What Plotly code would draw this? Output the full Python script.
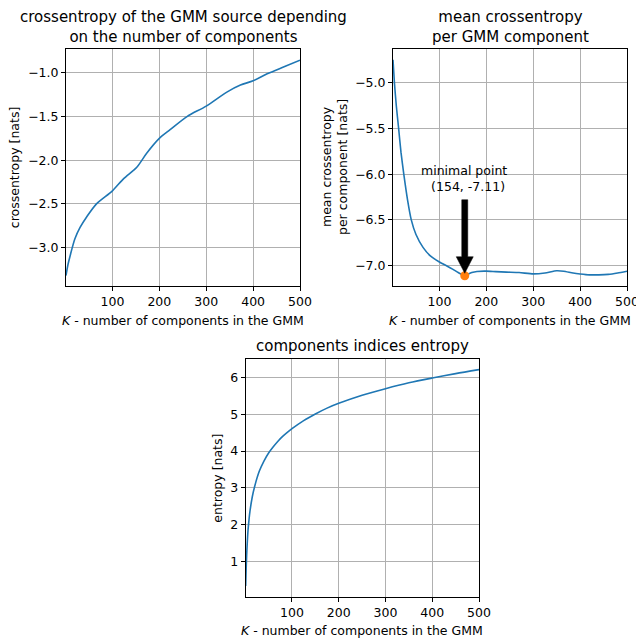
import plotly.graph_objects as go

# ---------------- data ----------------
k_ce = [1, 5, 10, 20, 31, 45, 66, 100, 124, 152, 173, 200, 223, 259, 300, 344, 373, 400, 430, 466, 500]
ce = [-3.32, -3.20, -3.09, -2.90, -2.77, -2.65, -2.50, -2.35, -2.21, -2.08, -1.92, -1.75, -1.65,
      -1.50, -1.38, -1.22, -1.14, -1.09, -1.01, -0.93, -0.855]

k_mce = [1, 4, 8, 13, 18, 24, 32, 40, 50, 65, 80, 100, 115, 129, 140, 154, 162, 169, 180, 200,
         220, 243, 270, 300, 325, 350, 365, 385, 400, 420, 440, 460, 480, 500]
mce = [-4.75, -5.0, -5.25, -5.5, -5.76, -6.0, -6.28, -6.5, -6.66, -6.80, -6.89, -6.96, -7.0, -7.04,
       -7.075, -7.11, -7.09, -7.075, -7.063, -7.06, -7.065, -7.07, -7.075, -7.09, -7.08, -7.055,
       -7.06, -7.08, -7.09, -7.10, -7.10, -7.095, -7.08, -7.06]
min_k = 154
min_val = -7.11

k_ent = [1, 2, 3, 4, 6, 8, 10, 15, 20, 30, 40, 50, 60, 70, 80, 90, 100, 125, 150, 175, 200,
         250, 300, 350, 400, 450, 500]
ent = [0.33, 0.80, 1.15, 1.42, 1.85, 2.12, 2.35, 2.75, 3.03, 3.45, 3.73, 3.95, 4.12, 4.27, 4.40,
       4.51, 4.61, 4.83, 5.01, 5.17, 5.30, 5.52, 5.70, 5.86, 5.99, 6.11, 6.22]

x_ticks = [100, 200, 300, 400, 500]
y1_ticks = [-1.0, -1.5, -2.0, -2.5, -3.0]
y2_ticks = [-5.0, -5.5, -6.0, -6.5, -7.0]
y3_ticks = [1, 2, 3, 4, 5, 6]

titles = ["crossentropy of the GMM source depending<br>on the number of components",
          "mean crossentropy<br>per GMM component",
          "components indices entropy"]
ylabels = ["crossentropy [nats]", "mean crossentropy<br>per component [nats]", "entropy [nats]"]
xlabel = "<i>K</i> - number of components in the GMM"
annot_text = "minimal point<br>\u00a0\u00a0(154, -7.11)"

# ---------------- layout helpers ----------------
W, H = 636, 640
FONT = "DejaVu Sans"
BLUE = "#1f77b4"
ORANGE = "#ff7f0e"


def fx(px):
    return px / W


def fy(py):
    return 1 - py / H


def fmt(v):
    s = f"{v:.1f}"
    return s.replace("-", "\u2212")


fig = go.Figure()

fig.add_trace(go.Scatter(x=k_ce, y=ce, mode="lines", line=dict(color=BLUE, width=1.6, shape="spline", smoothing=0.8),
                         xaxis="x", yaxis="y", showlegend=False))
fig.add_trace(go.Scatter(x=k_mce, y=mce, mode="lines", line=dict(color=BLUE, width=1.6, shape="spline", smoothing=0.6),
                         xaxis="x2", yaxis="y2", showlegend=False))
fig.add_trace(go.Scatter(x=[min_k], y=[min_val], mode="markers", marker=dict(color=ORANGE, size=9),
                         xaxis="x2", yaxis="y2", showlegend=False))
fig.add_trace(go.Scatter(x=k_ent, y=ent, mode="lines", line=dict(color=BLUE, width=1.6, shape="spline", smoothing=0.8),
                         xaxis="x3", yaxis="y3", showlegend=False))

axcommon = dict(showline=True, mirror=True, linecolor="black", linewidth=1,
                ticks="outside", ticklen=4, tickwidth=1, tickcolor="black",
                showgrid=True, gridcolor="#b0b0b0", gridwidth=1, zeroline=False, automargin=False,
                ticklabeloverflow="allow",
                tickfont=dict(family=FONT, size=12.5, color="black"))

fig.update_layout(
    width=W, height=H,
    margin=dict(l=0, r=0, t=0, b=0, pad=0, autoexpand=False),
    paper_bgcolor="white", plot_bgcolor="white",
    font=dict(family=FONT, color="black"),
    xaxis=dict(domain=[fx(66), fx(300)], range=[1, 500], tickvals=x_ticks, anchor="y", **axcommon),
    yaxis=dict(domain=[fy(286), fy(49.3)], range=[-3.44, -0.73], tickvals=y1_ticks,
               ticktext=[fmt(v) for v in y1_ticks], anchor="x", **axcommon),
    xaxis2=dict(domain=[fx(393), fx(627)], range=[1, 500], tickvals=x_ticks, anchor="y2", **axcommon),
    yaxis2=dict(domain=[fy(286), fy(49.3)], range=[-7.222, -4.636], tickvals=y2_ticks,
                ticktext=[fmt(v) for v in y2_ticks], anchor="x2", **axcommon),
    xaxis3=dict(domain=[fx(245.7), fx(479)], range=[1, 500], tickvals=x_ticks, anchor="y3", **axcommon),
    yaxis3=dict(domain=[fy(596.7), fy(359.3)], range=[0.035, 6.5], tickvals=y3_ticks,
                ticktext=[str(v) for v in y3_ticks], anchor="x3", **axcommon),
)

ann = []
# titles
title_pos = [(183, 27), (510, 27), (362, 346)]
for t, (px, py) in zip(titles, title_pos):
    ann.append(dict(text=t, x=fx(px), y=fy(py), xref="paper", yref="paper", showarrow=False,
                    xanchor="center", yanchor="middle", font=dict(family=FONT, size=15, color="black")))
# y labels
ylab_pos = [(14.7, 167.5), (334.5, 167.5), (216.7, 478)]
for t, (px, py) in zip(ylabels, ylab_pos):
    ann.append(dict(text=t, x=fx(px), y=fy(py), xref="paper", yref="paper", showarrow=False, textangle=-90,
                    xanchor="center", yanchor="middle", font=dict(family=FONT, size=12.5, color="black")))
# x labels
xlab_pos = [(183, 320), (510, 320), (362, 630)]
for (px, py) in xlab_pos:
    ann.append(dict(text=xlabel, x=fx(px), y=fy(py), xref="paper", yref="paper", showarrow=False,
                    xanchor="center", yanchor="middle", font=dict(family=FONT, size=12.5, color="black")))
# min point annotation text
ann.append(dict(text=annot_text, x=min_k, y=min_val, xref="x2", yref="y2", showarrow=False,
                xanchor="center", yanchor="bottom", yshift=80, xshift=-1,
                font=dict(family=FONT, size=12.5, color="black")))
fig.update_layout(annotations=ann)

# fat black arrow pointing at the minimum (pixel-sized shape anchored to the data point)
fig.add_shape(type="path", xref="x2", yref="y2", xsizemode="pixel", ysizemode="pixel",
              xanchor=min_k, yanchor=min_val,
              path="M -3,76 L 3,76 L 3,19 L 8.5,19 L 0,2.5 L -8.5,19 L -3,19 Z",
              fillcolor="black", line=dict(color="black", width=0.5))

fig.write_html("out.html")
